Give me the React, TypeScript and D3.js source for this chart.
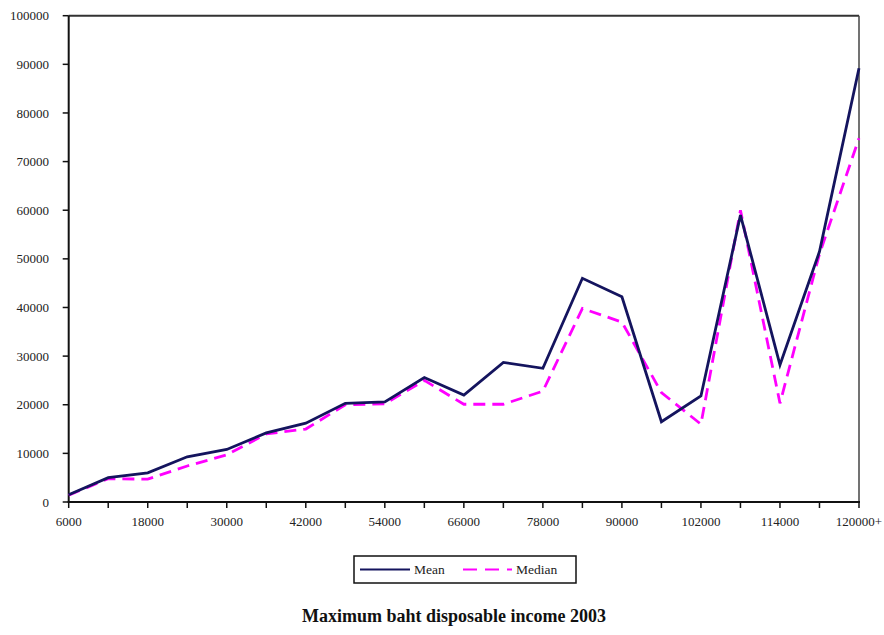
import React from "react";
import * as d3 from "d3";

const categories: string[] = [
  "6000", "12000", "18000", "24000", "30000", "36000", "42000", "48000", "54000", "60000",
  "66000", "72000", "78000", "84000", "90000", "96000", "102000", "108000", "114000", "120000", "120000+",
];
const tickLabels: string[] = ["6000", "18000", "30000", "42000", "54000", "66000", "78000", "90000", "102000", "114000", "120000+"];
const meanValues: number[] = [
  1500, 5000, 6000, 9300, 10800, 14200, 16200, 20300, 20600, 25600,
  22000, 28700, 27500, 46000, 42200, 16500, 21800, 59000, 28200, 51500, 89200,
];
const medianValues: number[] = [
  1400, 4800, 4700, 7400, 9700, 14000, 15000, 20000, 20200, 25000,
  20100, 20100, 22800, 39800, 37000, 22500, 16000, 60000, 20300, 51000, 74800,
];
const yTicks: number[] = [0, 10000, 20000, 30000, 40000, 50000, 60000, 70000, 80000, 90000, 100000];
const seriesNames: string[] = ["Mean", "Median"];
const title = "Maximum baht disposable income 2003";

const W = 884;
const H = 635;
const left = 68.7;
const right = 859;
const top = 15.7;
const bottom = 502;
const font = "'Liberation Serif', 'Times New Roman', serif";

export default function App() {
  const x = d3.scalePoint<string>().domain(categories).range([left, right]);
  const y = d3.scaleLinear().domain([0, 100000]).range([bottom, top]);
  const line = d3
    .line<number>()
    .x((_, i) => x(categories[i]) as number)
    .y((d) => y(d));

  return (
    <svg width={W} height={H} style={{ position: "absolute", left: 0, top: 0, background: "#fff" }}>
      <rect x={0} y={0} width={W} height={H} fill="#fff" />
      <line x1={left} x2={right} y1={top} y2={top} stroke="#333" strokeWidth={2} />
      <line x1={right} x2={right} y1={top} y2={bottom} stroke="#444" strokeWidth={1.5} />
      <line x1={left} x2={left} y1={top} y2={bottom + 0.5} stroke="#111" strokeWidth={2} />
      {yTicks.map((t) => (
        <g key={t}>
          <line x1={left - 6} x2={left} y1={y(t)} y2={y(t)} stroke="#111" strokeWidth={1.5} />
          <text x={49} y={y(t)} dy="0.35em" textAnchor="end" fontFamily={font} fontSize={13} fill="#222">
            {t}
          </text>
        </g>
      ))}
      <line x1={left - 1} x2={right + 1} y1={bottom} y2={bottom} stroke="#111" strokeWidth={2} />
      {categories.map((c) => (
        <line key={c} x1={x(c)} x2={x(c)} y1={bottom} y2={bottom + 6} stroke="#111" strokeWidth={1.5} />
      ))}
      {tickLabels.map((c) => (
        <text key={c} x={x(c)} y={526} textAnchor="middle" fontFamily={font} fontSize={13} fill="#222">
          {c}
        </text>
      ))}
      <path d={line(medianValues) || ""} fill="none" stroke="#ff00ff" strokeWidth={2.8} strokeDasharray="12,7" />
      <path d={line(meanValues) || ""} fill="none" stroke="#14145e" strokeWidth={2.8} strokeLinejoin="miter" />
      <rect x={354} y={556} width={222} height={27} fill="#fff" stroke="#111" strokeWidth={1.5} />
      <line x1={360} x2={410} y1={569.5} y2={569.5} stroke="#14145e" strokeWidth={2} />
      <text x={414} y={573.5} fontFamily={font} fontSize={13.5} fill="#222">{seriesNames[0]}</text>
      <line x1={463} x2={512} y1={569.5} y2={569.5} stroke="#ff00ff" strokeWidth={2} strokeDasharray="14,8" />
      <text x={516} y={573.5} fontFamily={font} fontSize={13.5} fill="#222">{seriesNames[1]}</text>
      <text x={454} y={622} textAnchor="middle" fontFamily={font} fontSize={18} fontWeight="bold" fill="#111">
        {title}
      </text>
    </svg>
  );
}
